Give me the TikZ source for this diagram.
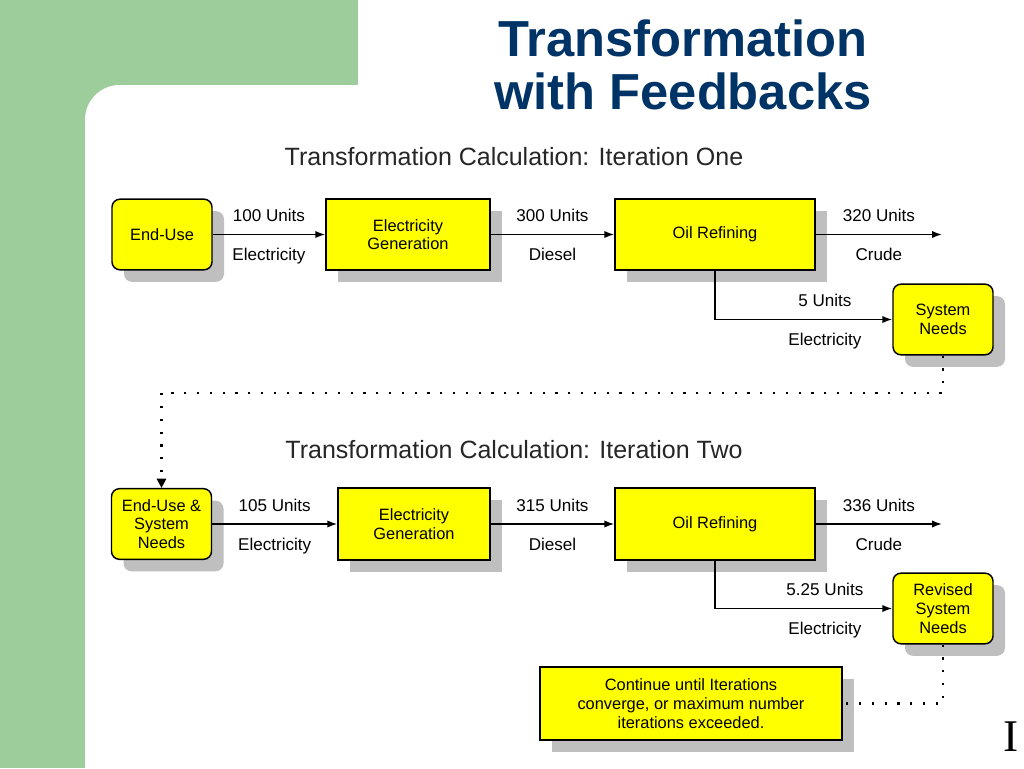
\documentclass[tikz,border=0pt]{standalone}
\usepackage{fontspec}
\setmainfont{Liberation Sans}
\newfontfamily\romanI{Liberation Serif}
\usetikzlibrary{arrows.meta,shadows}
\definecolor{slidegreen}{RGB}{157,205,154}
\definecolor{titleblue}{RGB}{0,51,102}
\definecolor{boxyellow}{RGB}{255,255,0}
\tikzset{
	process/.style={draw, line width=1.1pt, fill=boxyellow, align=center, font=\fontsize{12.3}{14}\selectfont,
		drop shadow={shadow xshift=9pt, shadow yshift=-9pt, fill=black!25, opacity=1}},
	terminal/.style={process, rounded corners=6pt, minimum width=75pt, minimum height=53pt},
	flow/.style={line width=1.15pt, -{Latex[length=7.5pt,width=5.5pt]}},
	feedback/.style={line width=1.6pt, dash pattern=on 1.6pt off 8pt},
	amount/.style={font=\fontsize{12.8}{14}\selectfont, inner sep=1pt},
}
\begin{document}
\begin{tikzpicture}[x=0.75pt, y=-0.75pt]
		\useasboundingbox (0,0) rectangle (1024,768);
		\fill[slidegreen] (0,0) rectangle (1024,768);
		\fill[white, rounded corners=26pt] (85,85) rectangle (1200,900);
		\fill[white] (358,0) rectangle (1024,86);

		\node[font=\bfseries\fontsize{38}{40}\selectfont, text=titleblue, align=center] (title) at (683,65) {Transformation\\with Feedbacks};
		\node[font=\fontsize{18.75}{20}\selectfont, text=black!85] (iterone) at (514,157) {Transformation Calculation: Iteration One};
		\node[font=\fontsize{18.75}{20}\selectfont, text=black!85] (itertwo) at (514,450) {Transformation Calculation: Iteration Two};

		\node[terminal] (enduse) at (162,234.5) {End-Use};
		\node[process, minimum width=123pt, minimum height=53pt] (gen1) at (408,234.5) {Electricity\\Generation};
		\node[process, minimum width=150pt, minimum height=53pt] (oil1) at (715,234.5) {Oil Refining};
		\node[terminal] (sys1) at (943,319.5) {System\\Needs};
		\coordinate (crude1) at (942,234.5);

		\draw[flow] (enduse) -- node[amount, above=8pt] {100 Units} node[amount, below=9pt] {Electricity} (gen1);
		\draw[flow] (gen1) -- node[amount, above=8pt] {300 Units} node[amount, below=9pt] {Diesel} (oil1);
		\draw[flow] (oil1) -- node[amount, above=8pt] {320 Units} node[amount, below=9pt] {Crude} (crude1);
		\draw[flow] (oil1.south) |- node[amount, pos=0.81, above=8pt] {5 Units} node[amount, pos=0.81, below=9pt] {Electricity} (sys1.west);

		\node[terminal] (eusn) at (161.5,524) {End-Use \&\\System\\Needs};
		\node[process, minimum width=114pt, minimum height=54pt] (gen2) at (414,524) {Electricity\\Generation};
		\node[process, minimum width=150pt, minimum height=54pt] (oil2) at (715,524) {Oil Refining};
		\node[terminal] (rsn) at (943,608.5) {Revised\\System\\Needs};
		\coordinate (crude2) at (942,524);

		\draw[flow] (eusn) -- node[amount, above=8pt] {105 Units} node[amount, below=9pt] {Electricity} (gen2);
		\draw[flow] (gen2) -- node[amount, above=8pt] {315 Units} node[amount, below=9pt] {Diesel} (oil2);
		\draw[flow] (oil2) -- node[amount, above=8pt] {336 Units} node[amount, below=9pt] {Crude} (crude2);
		\draw[flow] (oil2.south) |- node[amount, pos=0.81, above=8pt] {5.25 Units} node[amount, pos=0.81, below=9pt] {Electricity} (rsn.west);

		\draw[feedback, -{Triangle[length=7pt,width=7pt]}] (sys1.south) -- ++(0,37) -| (eusn.north);

		\node[process, minimum width=226.5pt, minimum height=55pt] (note) at (691,703.5) {Continue until Iterations\\converge, or maximum number\\iterations exceeded.};
		\draw[feedback] (rsn.south) |- (note.east);

		\node[font=\romanI\fontsize{34}{34}\selectfont] (pagemark) at (1011,737) {I};
	\end{tikzpicture}
\end{document}
